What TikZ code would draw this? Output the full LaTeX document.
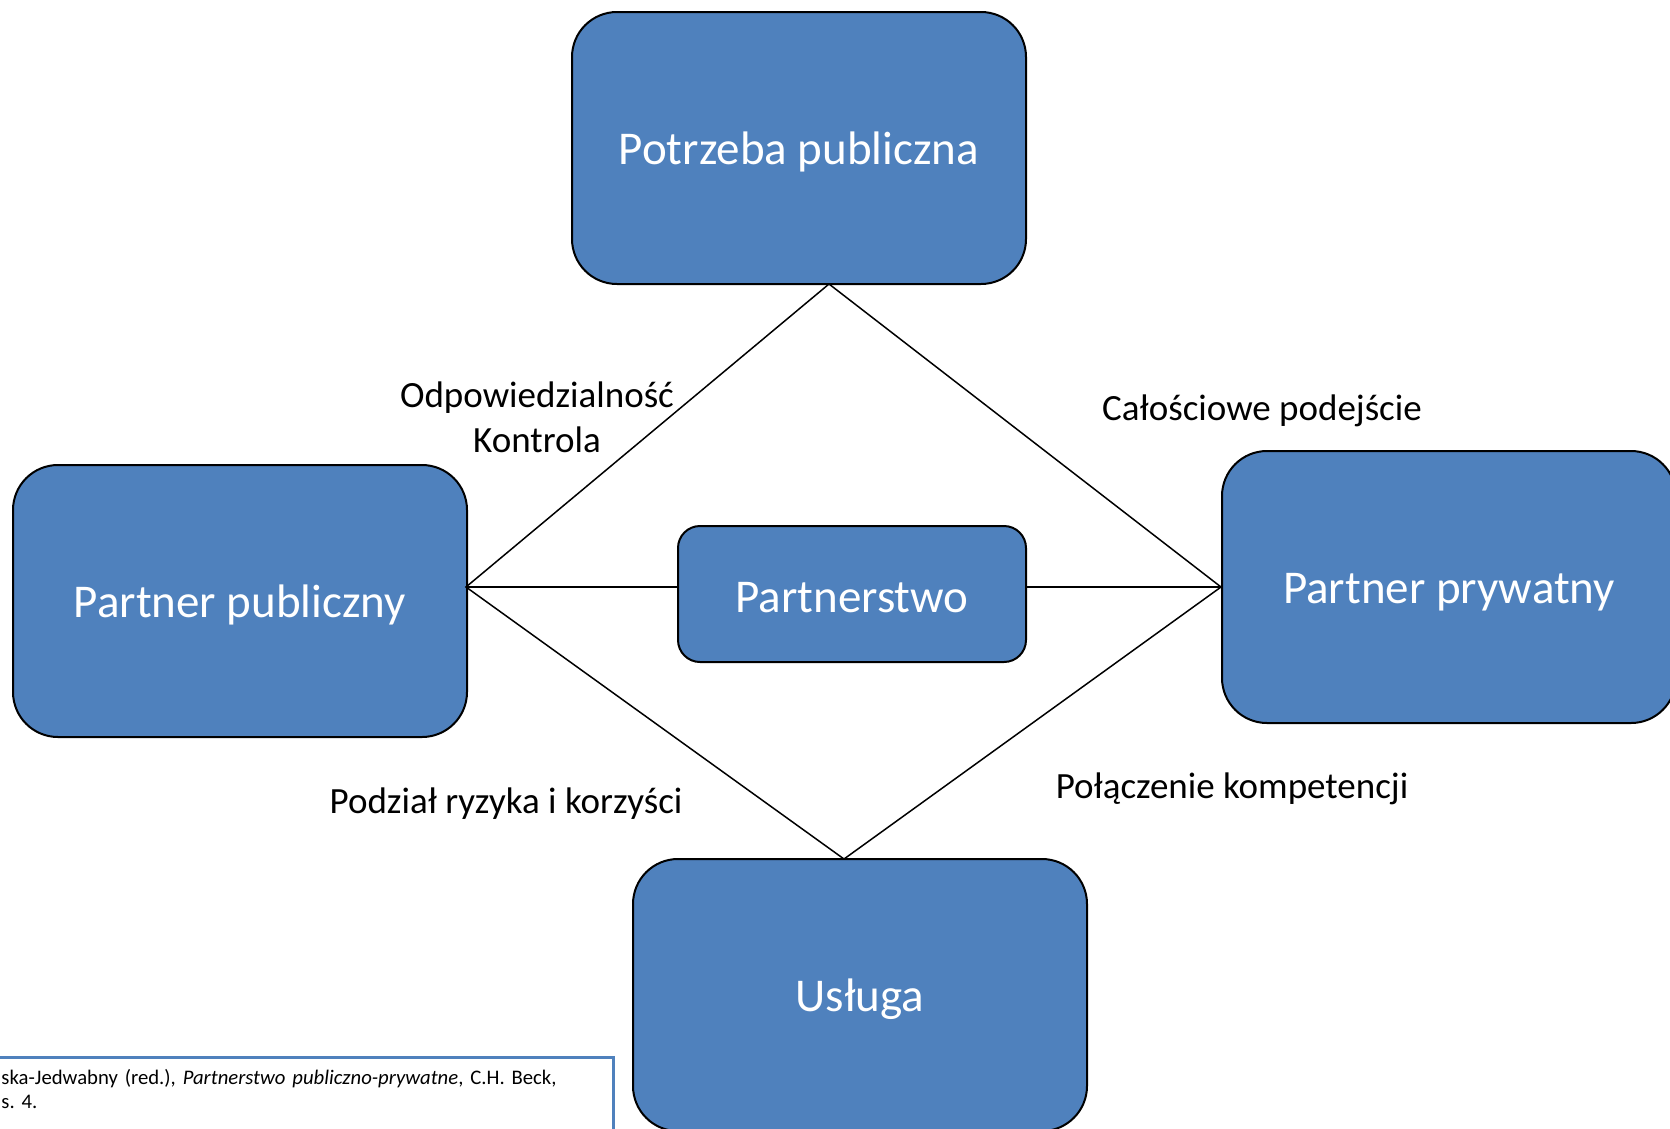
\documentclass[tikz,border=0pt]{standalone}
\usepackage{fontspec}
\setmainfont{Carlito}
\usetikzlibrary{positioning}
\definecolor{cbox}{HTML}{4F81BD}
\tikzset{
  bigbox/.style={draw=black, line width=2pt, fill=cbox, rounded corners=45pt, minimum width=454pt, minimum height=272pt, text=white, text height=43pt, text depth=9.4pt, font=\fontsize{47}{56}\selectfont},
  midbox/.style={draw=black, line width=2pt, fill=cbox, rounded corners=22pt, minimum width=348pt, minimum height=136pt, text=white, text height=46pt, text depth=9.4pt, font=\fontsize{47}{56}\selectfont},
  link/.style={line width=1.5pt},
  lbl/.style={font=\fontsize{37}{45}\selectfont, align=center},
  fnote/.style={draw=cbox, line width=3pt, fill=white, inner xsep=12pt, inner ysep=12pt, text width=600pt, align=left, font=\fontsize{20.7}{24}\selectfont\frenchspacing},
}
\begin{document}
\begin{tikzpicture}[x=1pt, y=-1pt]
  \useasboundingbox (0,0) rectangle (1670,1128);
  \clip (0,0) rectangle (1670,1128);
  % boxes
  \node[bigbox] (potrz) at (799,148) {Potrzeba publiczna};
  \node[bigbox] (ppub) at (240,601) {Partner publiczny};
  \node[bigbox] (pprv) at (1449,587) {Partner prywatny};
  \node[bigbox] (usl) at (860,995) {Usługa};
  \node[midbox] (partn) at (852,594) {Partnerstwo};
  % diamond corners
  \coordinate (dtop) at (829,284);
  \coordinate (dleft) at (466,587);
  \coordinate (dright) at (pprv.west);
  \coordinate (dbot) at (844,859);
  \draw[link] (dleft) -- (dtop) -- (dright) -- (dbot) -- cycle;
  \draw[link] (dleft) -- (dleft -| partn.west);
  \draw[link] (partn.east |- dright) -- (dright);
  % labels
  \node[lbl] (odp) at (537,417) {Odpowiedzialność\\Kontrola};
  \node[lbl] (cal) at (1262,411) {Całościowe podejście};
  \node[lbl] (podz) at (506,804) {Podział ryzyka i korzyści};
  \node[lbl] (pol) at (1232,789) {Połączenie kompetencji};
  % source
  \node[fnote, anchor=north west] (zrodlo) at (-12,1056) {ska-Jedwabny (red.), \textit{Partnerstwo publiczno-prywatne}, C.H. Beck,\\s. 4.\rule[-50pt]{0pt}{1pt}};
\end{tikzpicture}
\end{document}
